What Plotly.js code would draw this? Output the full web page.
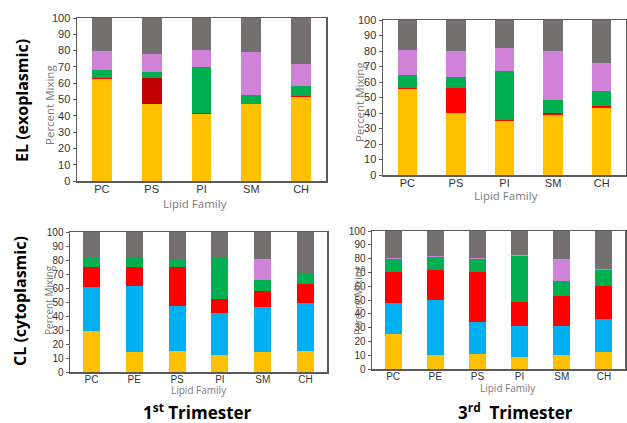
<!DOCTYPE html>
<html><head><meta charset="utf-8">
<script src="https://cdn.plot.ly/plotly-3.0.1.min.js"></script>
<style>html,body{margin:0;padding:0;background:#fff}#chart{width:627px;height:423px}</style>
</head><body><div id="chart"></div>
<script>
// Categories
const elCats = ['PC','PS','PI','SM','CH'];
const clCats = ['PC','PE','PS','PI','SM','CH'];

// EL (exoplasmic), 1st trimester
const el1Yellow = [62.5, 47.5, 41, 47, 51.5];
const el1Red    = [1, 15.5, 0.5, 0.5, 0.5];
const el1Green  = [4.5, 4, 28.5, 5, 6];
const el1Purple = [11.5, 11, 10.5, 26.5, 14];
const el1Gray   = [20.5, 22, 19.5, 21, 28];

// EL (exoplasmic), 3rd trimester
const el3Yellow = [55.5, 40, 35, 39, 43.5];
const el3Red    = [0.8, 16, 0.8, 1.2, 1];
const el3Green  = [8.2, 7.5, 31.5, 8, 10];
const el3Purple = [16, 16.5, 14.5, 31.8, 18];
const el3Gray   = [19.5, 20, 18.2, 20, 27.5];

// CL (cytoplasmic), 1st trimester
const cl1Yellow = [29.5, 14, 15, 12, 14.5, 15];
const cl1Blue   = [31.5, 47.5, 32.5, 30, 32, 34];
const cl1Red    = [14, 13.5, 27.5, 10, 11.5, 14];
const cl1Green  = [6.5, 6.5, 5.5, 30, 7.5, 7.5];
const cl1Purple = [0, 0, 0, 0, 15.5, 0.5];
const cl1Gray   = [18.5, 18.5, 19.5, 18, 19, 29];

// CL (cytoplasmic), 3rd trimester
const cl3Yellow = [25.5, 10, 11, 9, 10.5, 12];
const cl3Blue   = [22.5, 40, 23, 22, 20.5, 24];
const cl3Red    = [22, 21.5, 36, 17.5, 22, 24];
const cl3Green  = [10, 10, 9.5, 33.5, 10.5, 11.5];
const cl3Purple = [0.8, 0.6, 0.7, 0.7, 16, 0.8];
const cl3Gray   = [19.2, 17.9, 19.8, 17.3, 20.5, 27.7];

// Titles
const yTitle = 'Percent Mixing';
const xTitle = 'Lipid Family';

const C = {yellow:'#FFC000', blue:'#00B0F0', red:'#FF0000', darkred:'#C00000', green:'#00B050', purple:'#CF82D8', gray:'#757070'};

function bar(x, y, color, xa, ya){
  return {type:'bar', x:x, y:y, xaxis:xa, yaxis:ya, marker:{color:color, line:{width:0}}, showlegend:false, hoverinfo:'x+y'};
}

const traces = [
  bar(elCats, el1Yellow, C.yellow, 'x', 'y'),
  bar(elCats, el1Red, [C.red, C.darkred, C.red, C.red, C.red], 'x', 'y'),
  bar(elCats, el1Green, C.green, 'x', 'y'),
  bar(elCats, el1Purple, C.purple, 'x', 'y'),
  bar(elCats, el1Gray, C.gray, 'x', 'y'),

  bar(elCats, el3Yellow, C.yellow, 'x2', 'y2'),
  bar(elCats, el3Red, C.red, 'x2', 'y2'),
  bar(elCats, el3Green, C.green, 'x2', 'y2'),
  bar(elCats, el3Purple, C.purple, 'x2', 'y2'),
  bar(elCats, el3Gray, C.gray, 'x2', 'y2'),

  bar(clCats, cl1Yellow, C.yellow, 'x3', 'y3'),
  bar(clCats, cl1Blue, C.blue, 'x3', 'y3'),
  bar(clCats, cl1Red, C.red, 'x3', 'y3'),
  bar(clCats, cl1Green, C.green, 'x3', 'y3'),
  bar(clCats, cl1Purple, C.purple, 'x3', 'y3'),
  bar(clCats, cl1Gray, C.gray, 'x3', 'y3'),

  bar(clCats, cl3Yellow, C.yellow, 'x4', 'y4'),
  bar(clCats, cl3Blue, C.blue, 'x4', 'y4'),
  bar(clCats, cl3Red, C.red, 'x4', 'y4'),
  bar(clCats, cl3Green, C.green, 'x4', 'y4'),
  bar(clCats, cl3Purple, C.purple, 'x4', 'y4'),
  bar(clCats, cl3Gray, C.gray, 'x4', 'y4')
];

const W = 627, H = 423;
const tickFam = 'Liberation Sans Narrow, Liberation Sans, Arial, sans-serif';
function xax(l, r, anchor, fs){
  return {domain:[l/W, r/W], anchor:anchor, automargin:false, showline:true, mirror:true, linecolor:'#5a5a5a', linewidth:1.5,
    ticks:'', showgrid:false, zeroline:false, fixedrange:true, ticklabelstandoff:-3,
    tickfont:{family:tickFam, size:fs, color:'#333'}};
}
function yax(t, b, anchor, fs){
  return {domain:[1-b/H, 1-t/H], anchor:anchor, automargin:false, range:[0,100], dtick:10, showline:true, mirror:true,
    linecolor:'#5a5a5a', linewidth:1.5, ticks:'outside', ticklen:3, tickcolor:'#5a5a5a',
    showgrid:false, zeroline:false, fixedrange:true,
    tickfont:{family:tickFam, size:fs, color:'#333'}};
}

function label(text, px, py, angle, size, color){
  return {text:text, x:px/W, y:1-py/H, xref:'paper', yref:'paper', xanchor:'center', yanchor:'middle',
    textangle:angle, showarrow:false, borderpad:0, font:{family:'Open Sans, sans-serif', size:size, color:color}};
}
const tc = '#7a7a7a';

const layout = {
  width:W, height:H, margin:{l:0, r:0, t:0, b:0},
  paper_bgcolor:'#fff', plot_bgcolor:'#fff',
  barmode:'stack', bargap:0.6, showlegend:false,
  xaxis: xax(77, 326, 'y', 11),
  yaxis: yax(18, 181, 'x', 11),
  xaxis2: xax(383, 626, 'y2', 11),
  yaxis2: yax(20, 175, 'x2', 11),
  xaxis3: xax(70, 327, 'y3', 10),
  yaxis3: yax(232, 372, 'x3', 10),
  xaxis4: xax(372, 625, 'y4', 10),
  yaxis4: yax(231, 369, 'x4', 10),
  annotations:[
    label(yTitle, 49, 105, -90, 11.5, tc),
    label(yTitle, 359, 102, -90, 11.5, tc),
    label(yTitle, 49, 300, -90, 10, tc),
    label(yTitle, 358, 300, -90, 10, tc),
    label(xTitle, 195, 203, 0, 11.5, tc),
    label(xTitle, 506, 195, 0, 11.5, tc),
    label(xTitle, 199, 390, 0, 10, tc),
    label(xTitle, 508, 388, 0, 10, tc),
    label('<b>EL (exoplasmic)</b>', 22, 101, -90, 16, '#000'),
    label('<b>CL (cytoplasmic)</b>', 20, 301, -90, 16, '#000'),
    label('<b>1<sup>st</sup> Trimester</b>', 197, 411, 0, 17, '#000'),
    label('<b>3<sup>rd</sup>  Trimester</b>', 515, 411, 0, 17, '#000')
  ]
};

Plotly.newPlot('chart', traces, layout, {displayModeBar:false, staticPlot:true});
</script>
</body></html>
